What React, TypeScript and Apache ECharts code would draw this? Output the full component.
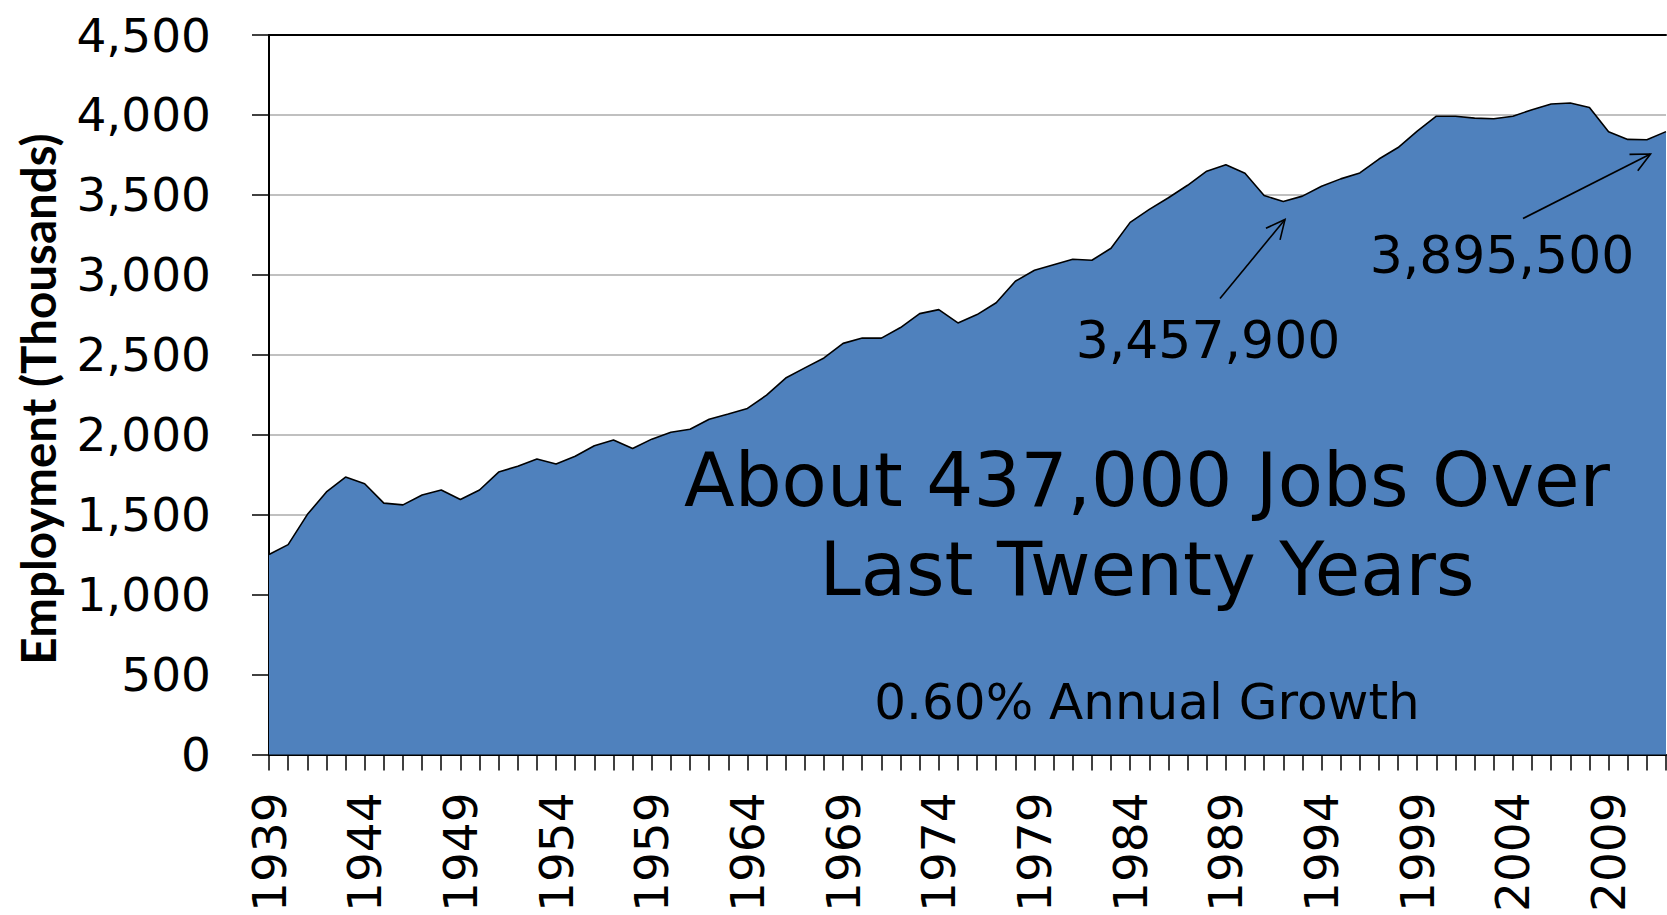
import React, { useEffect, useRef } from "react";
import * as echarts from "echarts";

const years: string[] = [
  "1939","1940","1941","1942","1943","1944","1945","1946","1947","1948",
  "1949","1950","1951","1952","1953","1954","1955","1956","1957","1958",
  "1959","1960","1961","1962","1963","1964","1965","1966","1967","1968",
  "1969","1970","1971","1972","1973","1974","1975","1976","1977","1978",
  "1979","1980","1981","1982","1983","1984","1985","1986","1987","1988",
  "1989","1990","1991","1992","1993","1994","1995","1996","1997","1998",
  "1999","2000","2001","2002","2003","2004","2005","2006","2007","2008",
  "2009","2010","2011","2012",
];

const employment: number[] = [
  1250, 1312, 1500, 1642, 1735, 1693, 1572, 1561, 1623, 1654,
  1594, 1654, 1766, 1803, 1848, 1817, 1865, 1931, 1966, 1913,
  1972, 2015, 2034, 2096, 2129, 2164, 2247, 2354, 2418, 2480,
  2571, 2604, 2604, 2670, 2757, 2782, 2699, 2751, 2825, 2960,
  3028, 3063, 3097, 3091, 3166, 3328, 3409, 3482, 3560, 3648,
  3688, 3635, 3496, 3457.9, 3492, 3554, 3600, 3637, 3724, 3796,
  3899, 3992, 3992, 3980, 3976, 3992, 4033, 4068, 4075, 4046,
  3895, 3847, 3845, 3895.5,
];

const yTicks = { min: 0, max: 4500, step: 500 };
const headline: string[] = ["About 437,000 Jobs Over", "Last Twenty Years"];
const subline = "0.60% Annual Growth";
const callouts: string[] = ["3,457,900", "3,895,500"];
const yTitle = "Employment (Thousands)";

const FONT = "DejaVu Sans";

function arrowHead(x1: number, y1: number, x2: number, y2: number, len: number, ang: number) {
  const a = Math.atan2(y2 - y1, x2 - x1);
  const p1 = [x2 - len * Math.cos(a - ang), y2 - len * Math.sin(a - ang)];
  const p2 = [x2 - len * Math.cos(a + ang), y2 - len * Math.sin(a + ang)];
  return [p1, [x2, y2], p2];
}

function arrow(x1: number, y1: number, x2: number, y2: number) {
  return [
    { type: "line", z: 100, shape: { x1, y1, x2, y2 }, style: { stroke: "#000", lineWidth: 1.6 } },
    {
      type: "polyline", z: 100,
      shape: { points: arrowHead(x1, y1, x2, y2, 21, 0.45) },
      style: { stroke: "#000", lineWidth: 1.6, fill: "none" },
    },
  ];
}

function txt(text: string, x: number, y: number, size: number, extra: any = {}) {
  return {
    type: "text", z: 100, x, y, ...extra,
    style: {
      text, fill: "#000", fontSize: size, fontFamily: FONT,
      align: "center", verticalAlign: "middle", ...(extra.style || {}),
    },
  };
}

export default function App() {
  const ref = useRef<HTMLDivElement>(null);
  useEffect(() => {
    document.body.style.margin = "0";
    const chart = echarts.init(ref.current!, undefined, { renderer: "svg" });
    const option: any = {
      animation: false,
      backgroundColor: "#fff",
      grid: { left: 269, top: 35, right: 1, bottom: 153.5, containLabel: false },
      xAxis: [
        {
          type: "category",
          data: years,
          boundaryGap: false,
          axisLine: { show: true, lineStyle: { color: "#000", width: 2 } },
          axisTick: { show: true, interval: 0, length: 16, lineStyle: { color: "#000", width: 1.5 } },
          axisLabel: {
            interval: 4, rotate: 90, margin: 38, fontSize: 47, fontFamily: FONT,
            color: "#000",
          },
          splitLine: { show: false },
        },
        {
          type: "category",
          data: years,
          position: "top",
          boundaryGap: false,
          axisLine: { show: true, lineStyle: { color: "#000", width: 2 } },
          axisTick: { show: false },
          axisLabel: { show: false },
          splitLine: { show: false },
        },
      ],
      yAxis: {
        type: "value",
        min: yTicks.min,
        max: yTicks.max,
        interval: yTicks.step,
        axisLine: { show: true, lineStyle: { color: "#000", width: 2 } },
        axisTick: { show: true, length: 17, lineStyle: { color: "#000", width: 1.5 } },
        axisLabel: {
          margin: 58, fontSize: 47, fontFamily: FONT, color: "#000",
          padding: [0, 0, 13, 0],
          formatter: (v: number) => v.toLocaleString("en-US"),
        },
        splitLine: { show: true, lineStyle: { color: "#ababab", width: 1.5 } },
      },
      series: [
        {
          type: "line",
          data: employment,
          xAxisIndex: 0,
          symbol: "none",
          lineStyle: { color: "#000", width: 1.6 },
          areaStyle: { color: "#4F81BD", opacity: 1 },
          z: 2,
        },
      ],
      graphic: [
        txt(yTitle, 37, 399, 47.5, {
          rotation: Math.PI / 2,
          style: { fontWeight: "bold", fontFamily: "Lato" },
        }),
        txt(headline[0], 1147, 480, 74),
        txt(headline[1], 1147, 569, 74),
        txt(subline, 1147, 702, 50),
        txt(callouts[0], 1208, 340, 52),
        txt(callouts[1], 1502, 255, 52),
        ...arrow(1220, 298.5, 1285, 219.5),
        ...arrow(1523, 218.5, 1650.5, 154),
      ],
    };
    chart.setOption(option);
    return () => chart.dispose();
  }, []);
  return (
    <div
      ref={ref}
      style={{ position: "fixed", left: 0, top: 0, width: "1667px", height: "915px" }}
    />
  );
}
